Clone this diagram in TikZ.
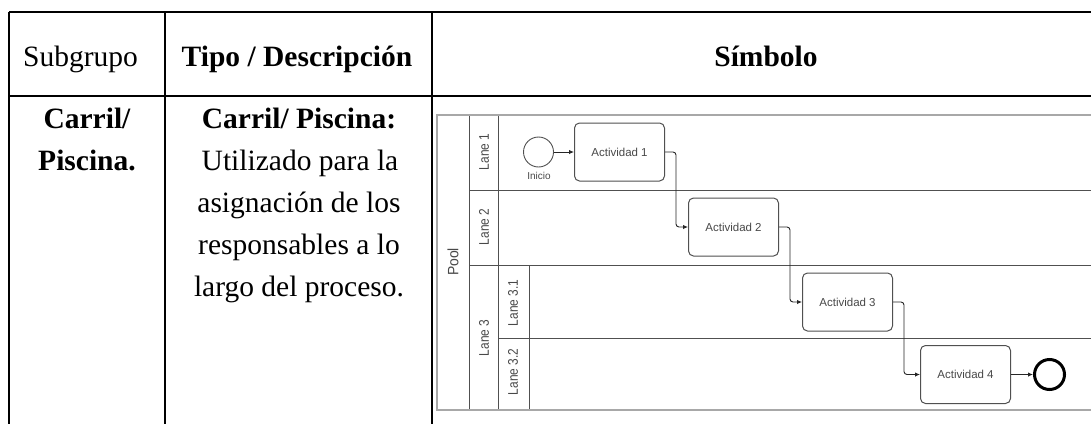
\documentclass[tikz,border=0pt]{standalone}
\usepackage{fontspec}
\usepackage{graphicx}
\setmainfont{Liberation Serif}
\newfontfamily\diagfont{Liberation Sans}
\usetikzlibrary{arrows.meta}
\definecolor{poolgrey}{HTML}{A8A8A8}
\definecolor{lanegrey}{HTML}{505050}
\definecolor{labelgrey}{HTML}{484848}
% narrow lettering used for the lane headers
\newcommand{\lanetext}[1]{\scalebox{0.85}[1]{#1}}
\begin{document}
\begin{tikzpicture}[x=1pt,y=-1pt,
  tablerule/.style={line width=2.4pt,draw=black},
  tabletext/.style={anchor=base,inner sep=0pt,font=\fontsize{29.5}{35}\selectfont},
  tablebold/.style={anchor=base,inner sep=0pt,font=\fontsize{29.5}{35}\selectfont\bfseries},
  poolrule/.style={line width=1.8pt,draw=poolgrey},
  lanerule/.style={line width=0.9pt,draw=lanegrey},
  lanelabel/.style={rotate=90,inner sep=0pt,text=labelgrey,font=\diagfont\fontsize{14}{16}\selectfont},
  poollabel/.style={rotate=90,inner sep=0pt,text=labelgrey,font=\diagfont\fontsize{15}{17}\selectfont},
  activity/.style={draw=lanegrey,line width=1pt,rounded corners=5pt,fill=white,
    minimum width=90pt,minimum height=58pt,inner sep=0pt,text=labelgrey,
    font=\diagfont\fontsize{11.5}{13}\selectfont},
  startev/.style={circle,draw=lanegrey,line width=0.9pt,minimum size=30pt,inner sep=0pt,fill=white},
  endev/.style={circle,draw=black,line width=3pt,minimum size=30pt,inner sep=0pt,fill=white},
  evlabel/.style={inner sep=0pt,text=labelgrey,font=\diagfont\fontsize{10}{12}\selectfont},
  flow/.style={line width=0.9pt,draw=black!85,rounded corners=3pt,-{Latex[length=5pt,width=4.5pt]}}
]
\useasboundingbox (0,0) rectangle (1091,423);
\clip (0,0) rectangle (1091,423);

% table rules
\draw[tablerule] (9,12) -- (1100,12);
\draw[tablerule] (9,96) -- (1100,96);
\draw[tablerule] (9,12) -- (9,430);
\draw[tablerule] (165,12) -- (165,430);
\draw[tablerule] (432,12) -- (432,430);

% header row
\node[tabletext,anchor=base west] (hsub) at (23,66) {Subgrupo};
\node[tablebold] (htipo) at (297,66) {Tipo / Descripción};
\node[tablebold] (hsim) at (766,66) {Símbolo};

% first column
\node[tablebold] (sg1) at (87,128) {Carril/};
\node[tablebold] (sg2) at (87,170) {Piscina.};

% second column
\node[tablebold] (ds1) at (299,128) {Carril/ Piscina:};
\node[tabletext] (ds2) at (300,170) {Utilizado para la};
\node[tabletext] (ds3) at (299,212) {asignación de los};
\node[tabletext] (ds4) at (299,254) {responsables a lo};
\node[tabletext] (ds5) at (299,296) {largo del proceso.};

% pool and lanes
\draw[lanerule] (469,190) -- (1100,190);
\draw[lanerule] (469,265) -- (1100,265);
\draw[lanerule] (498,338) -- (1100,338);
\draw[lanerule] (469,115) -- (469,410);
\draw[lanerule] (498,115) -- (498,410);
\draw[lanerule] (529,265) -- (529,410);
\draw[poolrule] (1100,115) -- (437,115) -- (437,410) -- (1100,410);

\node[poollabel] (lpool) at (453,262) {\scalebox{0.93}[1]{Pool}};
\node[lanelabel] (l1) at (484,152) {\lanetext{Lane 1}};
\node[lanelabel] (l2) at (484,227) {\lanetext{Lane 2}};
\node[lanelabel] (l3) at (484,338) {\lanetext{Lane 3}};
\node[lanelabel] (l31) at (513,303) {\lanetext{Lane 3.1}};
\node[lanelabel] (l32) at (513,372) {\lanetext{Lane 3.2}};

% process elements
\node[startev] (start) at (538.5,152) {};
\node[evlabel] (startlbl) at (539,176) {Inicio};
\node[activity] (a1) at (619.5,152) {Actividad 1};
\node[activity] (a2) at (733.5,227) {Actividad 2};
\node[activity] (a3) at (847.5,302) {Actividad 3};
\node[activity] (a4) at (965.5,374.5) {Actividad 4};
\node[endev] (end) at (1049.5,374.5) {};

% sequence flows
\draw[flow] (start) -- (a1);
\draw[flow] (a1.east) -- ++(11,0) |- (a2.west);
\draw[flow] (a2.east) -- ++(11,0) |- (a3.west);
\draw[flow] (a3.east) -- ++(11,0) |- (a4.west);
\draw[flow] (a4) -- (end);
\end{tikzpicture}
\end{document}
